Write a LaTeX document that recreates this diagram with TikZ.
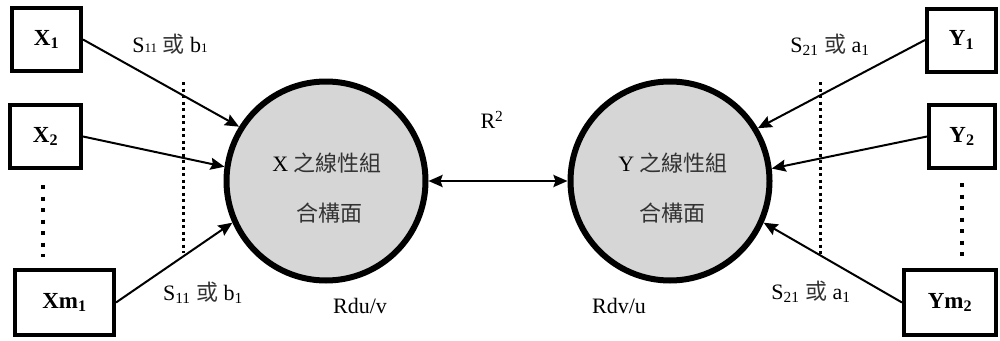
\documentclass[tikz,border=0pt]{standalone}
\usepackage{fontspec}
\setmainfont{Liberation Serif}
\newfontfamily\cjk{Noto Sans CJK TC}
\usetikzlibrary{arrows.meta}
\newcommand{\cj}[1]{{\cjk\color{black!80}#1}}
\newcommand{\smd}[1]{{\fontsize{13}{13}\selectfont #1}}
\begin{document}
\begin{tikzpicture}[x=1pt,y=-1pt,
  every node/.style={font=\fontsize{22}{26}\selectfont, inner sep=0pt},
  varbox/.style={draw, line width=4pt, font=\fontsize{23}{27}\selectfont\bfseries},
  latent/.style={circle, draw, line width=6pt, fill=black!16, minimum size=199pt},
  link/.style={line width=2pt, -{Stealth[length=14pt,width=12pt,inset=2pt]}},
  both/.style={line width=2.5pt, {Stealth[length=14pt,width=12pt,inset=2pt]}-{Stealth[length=14pt,width=12pt,inset=2pt]}},
  cut/.style={line width=3pt, dash pattern=on 3pt off 3.5pt},
  more/.style={line width=4pt, dash pattern=on 4pt off 7.5pt}]
\useasboundingbox (0,0) rectangle (1000,340);
% observed variables
\node[varbox, minimum width=69pt, minimum height=63pt] (x1) at (46.5,39.5) {X\textsubscript{1}};
\node[varbox, minimum width=71pt, minimum height=63pt] (x2) at (45.5,136.5) {X\textsubscript{2}};
\node[varbox, minimum width=99pt, minimum height=65pt] (xm) at (64.5,302.5) {Xm\textsubscript{1}};
\node[varbox, minimum width=69pt, minimum height=63pt] (y1) at (961.5,40) {Y\textsubscript{1}};
\node[varbox, minimum width=66pt, minimum height=63pt] (y2) at (962,136.5) {Y\textsubscript{2}};
\node[varbox, minimum width=92pt, minimum height=65pt] (ym) at (950,302.5) {Ym\textsubscript{2}};
% latent composites
\node[latent] (cx) at (326,181) {};
\node[latent] (cy) at (670,181) {};
\node (xt1) at (327,163) {X \cj{之線性組}};
\node (xt2) at (329,213) {\cj{合構面}};
\node (yt1) at (673,163) {Y \cj{之線性組}};
\node (yt2) at (672,213) {\cj{合構面}};
% connectors
\draw[link] (x1.east) -- (cx.148);
\draw[link] (x2.east) -- (cx.172);
\draw[link] (xm.east) -- (cx.204);
\draw[link] (y1.west) -- (cy.31);
\draw[link] (y2.west) -- (cy.7);
\draw[link] (ym.west) -- (cy.336);
\draw[both] (cx.east) -- (cy.west);
% dotted separators
\coordinate (la) at (183,82);
\coordinate (lb) at (183,253);
\coordinate (ra) at (820,82);
\coordinate (rb) at (820,257);
\draw[cut] (la) -- (lb);
\draw[cut] (ra) -- (rb);
\coordinate (da) at (43,185);
\coordinate (db) at (43,257);
\coordinate (ea) at (962,183);
\coordinate (eb) at (962,257);
\draw[more] (da) -- (db);
\draw[more] (ea) -- (eb);
% labels
\node (l1) at (170,44) {S\smd{11} \cj{或} b\smd{1}};
\node (l2) at (203,293) {S\textsubscript{11} \cj{或} b\textsubscript{1}};
\node (l3) at (830,45) {S\textsubscript{21} \cj{或} a\textsubscript{1}};
\node (l4) at (811,292) {S\textsubscript{21} \cj{或} a\textsubscript{1}};
\node (r2) at (492,120) {R\textsuperscript{2}};
\node (rdu) at (360,306) {Rdu/v};
\node (rdv) at (619,306) {Rdv/u};
\end{tikzpicture}
\end{document}
